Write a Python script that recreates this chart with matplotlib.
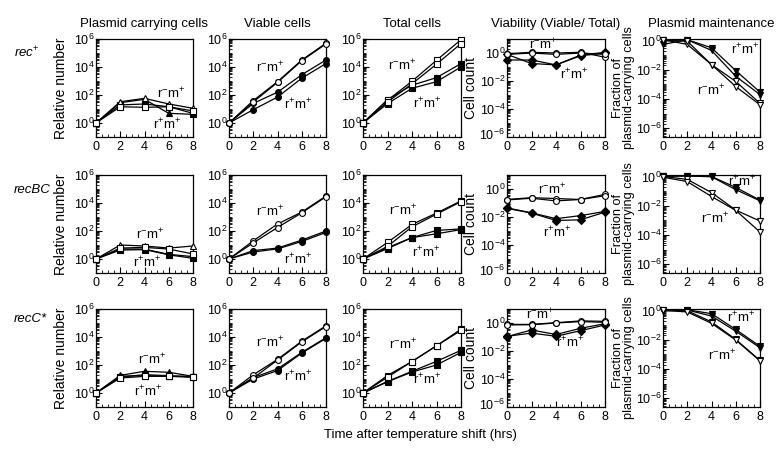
import numpy as np
import matplotlib
matplotlib.use("Agg")
import matplotlib.pyplot as plt
import matplotlib.transforms as mtransforms
from matplotlib.ticker import FixedLocator, FuncFormatter, MultipleLocator

plt.rcParams['font.family'] = ['Liberation Sans', 'DejaVu Sans']
plt.rcParams['mathtext.fontset'] = 'custom'
plt.rcParams['mathtext.rm'] = 'Liberation Sans'
plt.rcParams['mathtext.it'] = 'Liberation Sans:italic'
plt.rcParams['mathtext.bf'] = 'Liberation Sans:bold'

time_h = [0, 2, 4, 6, 8]
row_labels = [r'$\mathit{rec}^{+}$', 'recBC', 'recC*']
col_titles = ['Plasmid carrying cells', 'Viable cells', 'Total cells',
              'Viability (Viable/ Total)', 'Plasmid maintenance']
ylabels = ['Relative number', '', '', 'Cell count',
           'Fraction of\nplasmid-carrying cells']
xlabel = 'Time after temperature shift (hrs)'
lab_minus = r'r$^{-}$m$^{+}$'
lab_plus = r'r$^{+}$m$^{+}$'

# log10 values; order in each panel: [r-m+ a, r-m+ b, r+m+ a, r+m+ b]
recp_plasmid = [[0, 1.52, 1.76, 1.36, 1.05], [0, 1.16, 1.12, 1.16, 0.86],
                [0, 1.45, 1.69, 0.69, 0.62], [0, 1.29, 1.36, 1.16, 0.69]]
recp_viable = [[0, 1.6, 2.95, 4.5, 5.7], [0, 1.5, 2.9, 4.45, 5.65],
               [0, 1.4, 2.2, 3.45, 4.5], [0, 0.95, 1.85, 3.2, 4.25]]
recp_total = [[0, 1.62, 2.98, 4.48, 5.95], [0, 1.5, 2.8, 4.2, 5.67],
              [0, 1.67, 2.7, 3.24, 4.24], [0, 1.38, 2.48, 2.95, 4.0]]
recp_viability = [[-0.05, 0.05, 0.0, 0.05, -0.3], [-0.1, 0.0, -0.1, 0.0, -0.1],
                  [-0.5, -0.5, -0.85, -0.15, 0.05], [-0.1, -0.75, -0.85, -0.2, 0.0]]
recp_maint = [[0.05, -0.27, -1.65, -2.8, -4.3], [0.0, -0.05, -1.65, -3.15, -4.4],
              [-0.27, 0.05, -0.5, -2.06, -3.53], [0.0, 0.05, -0.68, -2.45, -3.7]]

recbc_plasmid = [[0, 1.0, 0.93, 0.78, 0.93], [0, 0.78, 0.83, 0.71, 0.36],
                 [0, 0.71, 0.71, 0.33, 0.17], [0, 0.64, 0.67, 0.3, 0.05]]
recbc_viable = [[0, 1.3, 2.5, 3.35, 4.5], [0, 1.15, 2.25, 3.3, 4.45],
                [0, 0.6, 0.78, 1.35, 2.0], [0, 0.5, 0.72, 1.25, 1.9]]
recbc_total = [[0, 1.18, 2.47, 3.28, 4.15], [0, 0.9, 2.3, 3.2, 4.1],
               [0, 0.81, 1.53, 2.04, 2.15], [0, 0.74, 1.53, 1.8, 2.1]]
recbc_viability = [[-0.75, -0.62, -0.68, -0.75, -0.38], [-0.78, -0.66, -0.85, -0.75, -0.48],
                   [-1.35, -1.7, -2.12, -1.9, -1.6], [-1.38, -1.72, -2.25, -2.2, -1.65]]
recbc_maint = [[0.0, -0.2, -1.1, -2.3, -3.05], [-0.05, -0.35, -1.37, -2.32, -3.8],
               [0.0, 0.05, 0.0, -0.75, -1.62], [0.02, 0.03, -0.02, -0.9, -1.67]]

recc_plasmid = [[0, 1.2, 1.24, 1.2, 1.2], [0, 1.07, 1.19, 1.19, 1.12],
                [0, 1.26, 1.55, 1.48, 1.19], [0, 1.14, 1.31, 1.24, 1.14]]
recc_viable = [[0, 1.3, 2.4, 3.7, 4.8], [0, 1.07, 2.35, 3.65, 4.75],
               [0, 1.1, 1.72, 2.9, 3.95], [0, 1.0, 1.6, 2.85, 3.9]]
recc_total = [[0, 1.25, 2.25, 3.37, 4.56], [0, 1.13, 2.25, 3.37, 4.47],
              [0, 0.83, 1.55, 2.26, 3.05], [0, 0.8, 1.5, 2.0, 2.9]]
recc_viability = [[-0.1, -0.1, 0.02, 0.15, 0.12], [-0.14, -0.12, 0.0, 0.1, 0.05],
                  [-0.97, -0.5, -0.82, -0.38, -0.05], [-0.95, -0.72, -0.95, -0.55, -0.14]]
recc_maint = [[0.05, -0.02, -0.78, -1.98, -3.42], [0.0, -0.1, -0.88, -2.02, -3.45],
              [0.0, 0.05, -0.22, -1.3, -2.45], [-0.02, 0.03, -0.38, -1.42, -2.55]]

panels = [[recp_plasmid, recp_viable, recp_total, recp_viability, recp_maint],
          [recbc_plasmid, recbc_viable, recbc_total, recbc_viability, recbc_maint],
          [recc_plasmid, recc_viable, recc_total, recc_viability, recc_maint]]

# label positions (axes fraction): [(r-m+), (r+m+)]
label_pos = [
    [[(0.78, 0.44), (0.73, 0.12)], [(0.42, 0.71), (0.71, 0.33)], [(0.40, 0.73), (0.65, 0.34)],
     [(0.37, 0.94), (0.69, 0.63)], [(0.50, 0.47), (0.85, 0.89)]],
    [[(0.56, 0.39), (0.53, 0.10)], [(0.42, 0.62), (0.71, 0.13)], [(0.41, 0.63), (0.64, 0.21)],
     [(0.46, 0.85), (0.51, 0.41)], [(0.54, 0.55), (0.82, 0.93)]],
    [[(0.58, 0.48), (0.54, 0.15)], [(0.42, 0.66), (0.71, 0.31)], [(0.41, 0.63), (0.65, 0.28)],
     [(0.34, 0.94), (0.64, 0.65)], [(0.61, 0.52), (0.81, 0.91)]],
]

W, H = 778, 450
col_lr = [(96, 193), (229, 326), (363, 461), (507, 605), (663, 760)]
row_tb = [(39, 137), (175, 273), (309, 407)]
ylabel_x = [-0.29, None, None, -0.3, -0.29]

markers_col = [['^', 's', '^', 's'], ['o', 'o', 'o', 'o'], ['s', 's', 's', 's'],
               ['o', 'o', 'D', 'D'], ['v', 'v', 'v', 'v']]
ylims = [(-1, 6), (-1, 6), (-1, 6), (-6, 1), (-6.6, 0.1)]
yticks_major = [[0, 2, 4, 6], [0, 2, 4, 6], [0, 2, 4, 6], [-6, -4, -2, 0], [-6, -4, -2, 0]]

fig = plt.figure(figsize=(W / 100, H / 100), dpi=100)


def fmt(v, pos):
    e = int(round(np.log10(v)))
    return r'$\mathdefault{10^{%d}}$' % e


for r in range(3):
    t, b = row_tb[r]
    for c in range(5):
        l, rr = col_lr[c]
        ax = fig.add_axes([l / W, 1 - b / H, (rr - l) / W, (b - t) / H])
        data = panels[r][c]
        for k in range(4):
            filled = k >= 2
            ms = 4.2 if markers_col[c][k] != 'D' else 3.6
            ax.plot(time_h, np.power(10.0, data[k]), color='black', lw=0.9,
                    marker=markers_col[c][k], ms=ms, mew=0.8,
                    mfc='black' if filled else 'white', mec='black',
                    clip_on=False, zorder=3 + (0 if filled else 1))
        ax.set_yscale('log')
        ax.set_xlim(0, 8)
        ax.set_ylim(10.0 ** ylims[c][0], 10.0 ** ylims[c][1])
        ax.xaxis.set_major_locator(FixedLocator([0, 2, 4, 6, 8]))
        ax.xaxis.set_minor_locator(MultipleLocator(0.5))
        ax.yaxis.set_major_locator(FixedLocator([10.0 ** e for e in yticks_major[c]]))
        ax.yaxis.set_major_formatter(FuncFormatter(fmt))
        lo, hi = int(np.floor(ylims[c][0])), int(np.ceil(ylims[c][1]))
        minors = []
        for e in range(lo, hi + 1):
            for s in range(1, 10):
                v = s * 10.0 ** e
                if s == 1 and e in yticks_major[c]:
                    continue
                minors.append(v)
        ax.yaxis.set_minor_locator(FixedLocator(minors))
        ax.yaxis.set_minor_formatter(FuncFormatter(lambda v, p: ''))
        ax.tick_params(axis='both', which='major', direction='in', length=4,
                       width=0.8, labelsize=9, pad=3)
        ax.tick_params(axis='both', which='minor', direction='in', length=2,
                       width=0.6)
        ax.tick_params(axis='y', pad=1)
        for sp in ax.spines.values():
            sp.set_linewidth(0.9)
        if c == 3:
            low_lab = ax.yaxis.get_major_ticks()[0].label1
            low_lab.set_transform(low_lab.get_transform() +
                                  mtransforms.ScaledTranslation(-1 / 100, 3 / 100,
                                                                fig.dpi_scale_trans))
        if ylabels[c]:
            ax.set_ylabel(ylabels[c], fontsize=9.2 if c == 4 else 10,
                          linespacing=0.85)
            ax.yaxis.set_label_coords(ylabel_x[c], 0.5)
        if r == 0:
            ax.set_title(col_titles[c], fontsize=9.5, pad=9)
        (mx, my), (px, py) = label_pos[r][c]
        ax.text(mx, my, lab_minus, transform=ax.transAxes, fontsize=9.5,
                ha='center', va='center')
        ax.text(px, py, lab_plus, transform=ax.transAxes, fontsize=9.5,
                ha='center', va='center')

row_label_y = [53, 190, 319]
for r in range(3):
    fig.text(14 / W, 1 - row_label_y[r] / H, row_labels[r], fontsize=9.5,
             style='italic', ha='left', va='center')

fig.text(420 / W, 1 - 435 / H, xlabel, fontsize=9.5, ha='center', va='center')

fig.savefig('out.png', dpi=100, facecolor='white')
